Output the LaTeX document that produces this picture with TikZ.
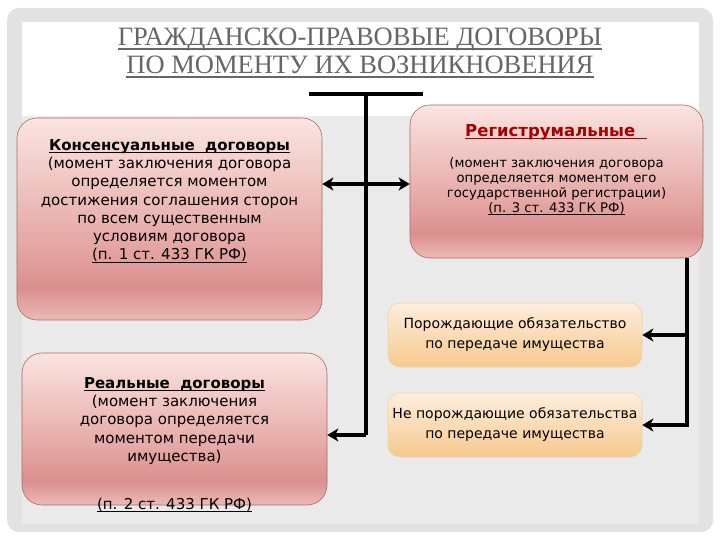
\documentclass[tikz,border=0pt]{standalone}
\usepackage{graphicx}
\usepackage{fontspec}
\setmainfont{Liberation Serif}
\newfontfamily\boxfont{DejaVu Sans}
\usetikzlibrary{arrows.meta}
\definecolor{framegray}{HTML}{E2E2E2}
\definecolor{bodygray}{HTML}{EAEAEA}
\definecolor{titlegray}{HTML}{666666}
\definecolor{pinkedge}{HTML}{A86A6A}
\definecolor{pinktop}{HTML}{FAE4E1}
\definecolor{pinkmid}{HTML}{E6AAA7}
\definecolor{pinkdeep}{HTML}{DA8F8E}
\definecolor{pinkbot}{HTML}{EDBAB5}
\definecolor{orangetop}{HTML}{FDEEDC}
\definecolor{orangebot}{HTML}{F6C98E}
\definecolor{orangeedge}{HTML}{EDD3A8}
\definecolor{regred}{HTML}{A80000}
\pgfdeclareverticalshading{pinkshade}{100bp}{color(0bp)=(pinkbot); color(25bp)=(pinkbot); color(33bp)=(pinkdeep); color(45bp)=(pinkmid); color(75bp)=(pinktop); color(100bp)=(pinktop)}
\newcommand{\ulbox}[3]{\setbox0\hbox{#3}\leavevmode\rlap{\rule[-#1]{\wd0}{#2}}\box0}
\begin{document}
\begin{tikzpicture}[x=1pt,y=-1pt,
  pinkbox/.style={draw=pinkedge,line width=0.6pt,rounded corners=20pt,shading=pinkshade},
  orangebox/.style={draw=orangeedge,line width=0.6pt,rounded corners=12pt,top color=orangetop,bottom color=orangebot,
    minimum width=254pt,minimum height=64pt,inner sep=0pt},
  titletext/.style={font=\fontsize{26.5}{28}\selectfont,text=titlegray,inner sep=0pt},
  boxtext/.style={font=\boxfont\fontsize{15}{18.3}\selectfont,align=center,inner sep=0pt},
  smalltext/.style={font=\boxfont\fontsize{13.2}{15}\selectfont,align=center,inner sep=0pt},
  conn/.style={line width=3.5pt},
  arr/.style={conn,-{Stealth[length=11pt,width=13pt,inset=3pt]}}]
\useasboundingbox (0,0) rectangle (720,540);
\fill[framegray,rounded corners=12pt] (7,8) rectangle (713,532);
\fill[bodygray] (22,22) rectangle (699,524);
\fill[white] (22,22) rectangle (699,116);
\node[titletext] (title1) at (360,40) {\ulbox{4pt}{1.8pt}{ГРАЖДАНСКО-ПРАВОВЫЕ ДОГОВОРЫ}};
\node[titletext] (title2) at (360,67) {\ulbox{4pt}{1.8pt}{ПО МОМЕНТУ ИХ ВОЗНИКНОВЕНИЯ}};
\node[pinkbox,minimum width=305pt,minimum height=202pt] (cons) at (169.5,219) {};
\node[pinkbox,minimum width=293pt,minimum height=153pt] (reg) at (556.5,181.5) {};
\node[pinkbox,minimum width=305pt,minimum height=152pt] (real) at (174.5,429) {};
\node[orangebox] (gen) at (515,335) {};
\node[orangebox] (nongen) at (515,425) {};
\node[boxtext,anchor=north] (constext) at (169.5,139)
  {\ulbox{2.5pt}{1pt}{\bfseries Консенсуальные\ \ договоры}\\
   (момент заключения договора\\определяется моментом\\достижения соглашения сторон\\
   по всем существенным\\условиям договора\\\ulbox{2.5pt}{0.8pt}{(п. 1 ст. 433 ГК РФ)}};
\node[font=\boxfont\bfseries\fontsize{16.5}{18}\selectfont,text=regred,inner sep=0pt] (regtitle) at (556,132)
  {\ulbox{3pt}{1.2pt}{Региструмальные\ \ }};
\node[smalltext,anchor=north] (regtext) at (556.5,157)
  {(момент заключения договора\\определяется моментом его\\государственной регистрации)\\
   \ulbox{2.5pt}{0.8pt}{(п. 3 ст. 433 ГК РФ)}};
\node[boxtext,anchor=north] (realtext) at (174.5,377)
  {\ulbox{2.5pt}{1pt}{\bfseries Реальные\ \ договоры}\\
   (момент заключения\\договора определяется\\моментом передачи\\имущества)};
\node[boxtext] (realref) at (174.5,505) {\ulbox{2.5pt}{0.8pt}{(п. 2 ст. 433 ГК РФ)}};
\node[font=\boxfont\fontsize{14}{20}\selectfont,align=center,inner sep=0pt] (gentext) at (gen)
  {Порождающие обязательство\\по передаче имущества};
\node[font=\boxfont\fontsize{14}{20}\selectfont,align=center,inner sep=0pt] (nongentext) at (nongen)
  {Не порождающие обязательства\\по передаче имущества};
\coordinate (barl) at (309,94);
\coordinate (barr) at (423,94);
\coordinate (top) at (366,94);
\coordinate (j1) at (366,184);
\coordinate (j2) at (366,435);
\coordinate (r0) at (687,258);
\draw[conn] (barl) -- (barr);
\draw[conn] (top) -- (j2);
\draw[arr] (j1) -- (j1 -| cons.east);
\draw[arr] (j1) -- (j1 -| reg.west);
\draw[arr] (j2) -- (j2 -| real.east);
\draw[arr] (r0) |- (nongen.east);
\draw[arr] (gen.east -| r0) -- (gen.east);
\end{tikzpicture}
\end{document}
